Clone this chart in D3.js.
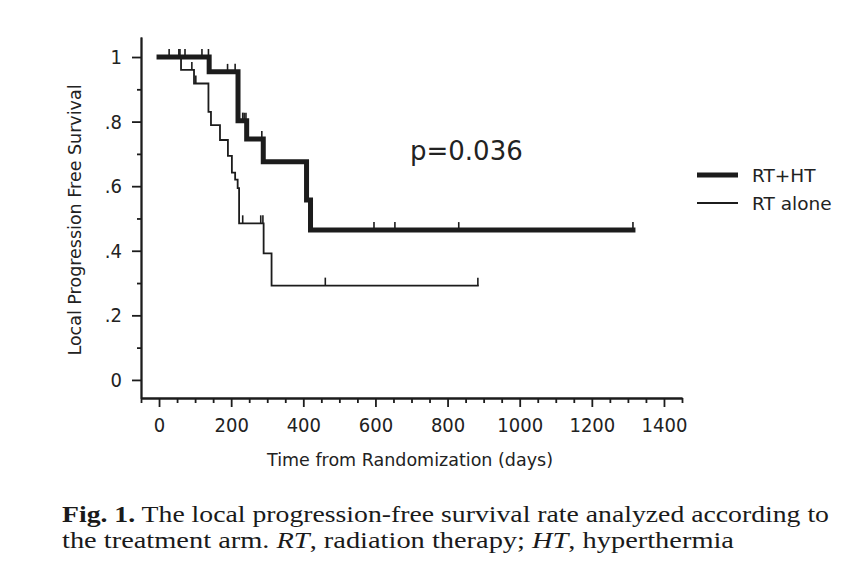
<!DOCTYPE html>
<html>
<head>
<meta charset="utf-8">
<script src="https://cdn.jsdelivr.net/npm/d3@7"></script>
<style>
  body { margin: 0; background: #fff; }
  svg { display: block; }
  .tick text { font-family: "DejaVu Sans Condensed", "DejaVu Sans", sans-serif; font-stretch: condensed; fill: #222; }
</style>
</head>
<body>
<div id="chart"></div>
<script>
// frame
const FRAME_WIDTH = 851;
const FRAME_HEIGHT = 582;

// RT+HT arm: event times (days) and survival after each step
const rtht_times = [0, 139, 219, 243, 289, 409, 420, 1314];
const rtht_surv = [1.0, 0.954, 0.803, 0.746, 0.676, 0.557, 0.464, 0.464];
const rtht_censor = [28, 55, 58, 72, 119, 137, 190, 211, 232, 236, 241, 285, 596, 654, 831, 1314];

// RT alone arm
const rt_times = [0, 61, 97, 137, 144, 169, 191, 202, 211, 218, 222, 290, 312, 884];
const rt_surv = [1.0, 0.96, 0.918, 0.83, 0.789, 0.743, 0.694, 0.642, 0.62, 0.594, 0.485, 0.392, 0.292, 0.292];
const rt_censor = [91, 102, 232, 282, 288, 461, 884];

// ticks
const x_major = [0, 200, 400, 600, 800, 1000, 1200, 1400];
const x_minor = d3.range(-50, 1451, 50).filter(d => d % 200 !== 0);
const y_major = [0, 0.2, 0.4, 0.6, 0.8, 1];
const y_minor = [0.1, 0.3, 0.5, 0.7, 0.9];
const y_labels = ["0", ".2", ".4", ".6", ".8", "1"];

const legend_names = ["RT+HT", "RT alone"];

const svg = d3.select("#chart")
  .append("svg")
  .attr("width", FRAME_WIDTH)
  .attr("height", FRAME_HEIGHT);

const xScale = d3.scaleLinear().domain([-50, 1450]).range([141, 682]);
const yScale = d3.scaleLinear().domain([-0.056, 1.062]).range([398, 37]);

const INK = "#1c1c1c";
const X_BASE = yScale(-0.056);

// x axis: minor then major
svg.append("g")
  .attr("transform", "translate(0," + X_BASE + ")")
  .call(d3.axisBottom(xScale).tickValues(x_minor).tickSize(5).tickSizeOuter(0).tickFormat(""))
  .call(g => g.selectAll("line, path").attr("stroke", INK).attr("stroke-width", 1.8));

svg.append("g")
  .attr("transform", "translate(0," + X_BASE + ")")
  .call(d3.axisBottom(xScale).tickValues(x_major).tickSize(9).tickSizeOuter(0).tickPadding(11)
    .tickFormat(d3.format("d")))
  .call(g => g.selectAll("line, path").attr("stroke", INK).attr("stroke-width", 1.8))
  .call(g => g.selectAll("text").attr("font-size", 20));

// y axis
svg.append("g")
  .attr("transform", "translate(" + xScale(-50) + ",0)")
  .call(d3.axisLeft(yScale).tickValues(y_minor).tickSize(4).tickSizeOuter(0).tickFormat(""))
  .call(g => g.selectAll("line, path").attr("stroke", INK).attr("stroke-width", 1.8));

svg.append("g")
  .attr("transform", "translate(" + xScale(-50) + ",0)")
  .call(d3.axisLeft(yScale).tickValues(y_major).tickSize(9).tickSizeOuter(0).tickPadding(10)
    .tickFormat((d, i) => y_labels[i]))
  .call(g => g.selectAll("line, path").attr("stroke", INK).attr("stroke-width", 1.8))
  .call(g => g.selectAll("text").attr("font-size", 20));

// axis titles
svg.append("text")
  .attr("x", 410).attr("y", 466)
  .attr("text-anchor", "middle")
  .attr("font-family", "DejaVu Sans, Verdana, sans-serif")
  .attr("font-size", 17.5)
  .attr("fill", "#222")
  .text("Time from Randomization (days)");

svg.append("text")
  .attr("transform", "translate(81,220) rotate(-90)")
  .attr("text-anchor", "middle")
  .attr("font-family", "DejaVu Sans, Verdana, sans-serif")
  .attr("font-size", 17.5)
  .attr("fill", "#222")
  .text("Local Progression Free Survival");

// survival curves
const line = d3.line()
  .x(d => xScale(d[0]))
  .y(d => yScale(d[1]))
  .curve(d3.curveStepAfter);

function survAt(times, surv, t) {
  let s = surv[0];
  for (let i = 0; i < times.length; i++) {
    if (times[i] <= t) s = surv[i];
  }
  return s;
}

const arms = [
  {times: rt_times, surv: rt_surv, censor: rt_censor, width: 1.8},
  {times: rtht_times, surv: rtht_surv, censor: rtht_censor, width: 5}
];

arms.forEach(a => {
  svg.append("path")
    .datum(d3.zip(a.times, a.surv))
    .attr("d", line)
    .attr("fill", "none")
    .attr("stroke", INK)
    .attr("stroke-width", a.width)
    .attr("stroke-linejoin", "miter")
    .attr("stroke-linecap", "square");

  svg.selectAll(null)
    .data(a.censor)
    .enter()
    .append("line")
      .attr("x1", d => xScale(d))
      .attr("x2", d => xScale(d))
      .attr("y1", d => yScale(survAt(a.times, a.surv, d)))
      .attr("y2", d => yScale(survAt(a.times, a.surv, d)) - 8)
      .attr("stroke", INK)
      .attr("stroke-width", 1.6);
});

// p value
svg.append("text")
  .attr("x", 410).attr("y", 160)
  .attr("font-family", "DejaVu Sans, Verdana, sans-serif")
  .attr("font-size", 26)
  .attr("fill", "#222")
  .text("p=0.036");

// legend
const legend = svg.selectAll(".legend")
  .data(legend_names)
  .enter()
  .append("g")
  .attr("transform", (d, i) => "translate(697," + (175 + i * 28) + ")");

legend.append("line")
  .attr("x1", 0).attr("x2", 41)
  .attr("stroke", INK)
  .attr("stroke-width", (d, i) => i === 0 ? 5 : 1.8);

legend.append("text")
  .attr("x", 55).attr("y", 7)
  .attr("font-family", "DejaVu Sans, Verdana, sans-serif")
  .attr("font-size", 18.5)
  .attr("fill", "#222")
  .text(d => d);

// caption, two lines (first one justified)
const cap1 = svg.append("text")
  .attr("x", 62).attr("y", 522)
  .attr("textLength", 767)
  .attr("lengthAdjust", "spacingAndGlyphs")
  .attr("font-family", "Liberation Serif, Times New Roman, serif")
  .attr("font-size", 23)
  .attr("fill", "#1a1a1a");
cap1.append("tspan").attr("font-weight", "bold").text("Fig. 1.");
cap1.append("tspan").text(" The local progression-free survival rate analyzed according to");

const cap2 = svg.append("text")
  .attr("x", 62).attr("y", 548)
  .attr("textLength", 672)
  .attr("lengthAdjust", "spacingAndGlyphs")
  .attr("font-family", "Liberation Serif, Times New Roman, serif")
  .attr("font-size", 23)
  .attr("fill", "#1a1a1a");
cap2.append("tspan").text("the treatment arm. ");
cap2.append("tspan").attr("font-style", "italic").text("RT");
cap2.append("tspan").text(", radiation therapy; ");
cap2.append("tspan").attr("font-style", "italic").text("HT");
cap2.append("tspan").text(", hyperthermia");
</script>
</body>
</html>
